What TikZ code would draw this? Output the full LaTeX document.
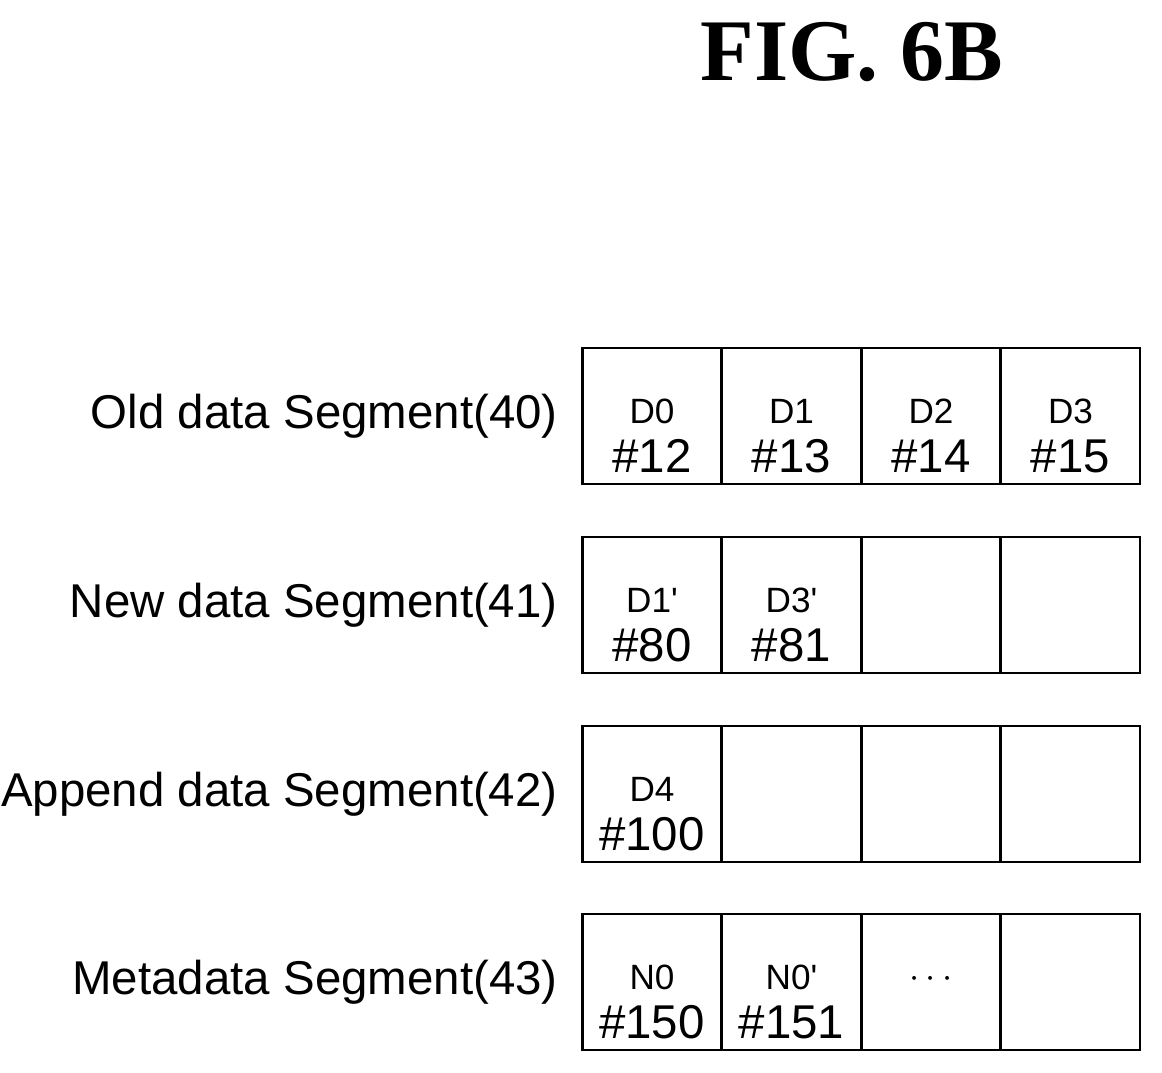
\documentclass[tikz,border=0pt]{standalone}
\usepackage{fontspec}
\setmainfont{Liberation Sans}
\newfontfamily\figfont{Liberation Serif}
\usetikzlibrary{positioning}
\begin{document}
\begin{tikzpicture}[x=0.02cm,y=-0.02cm,inner sep=0pt,
  cell/.style={draw,line width=1.2pt,minimum width=2.78cm,minimum height=2.72cm},
  seglabel/.style={anchor=east,font=\fontsize{27}{30}\selectfont},
  small/.style={font=\fontsize{20}{22}\selectfont},
  big/.style={font=\fontsize{27}{30}\selectfont}]
\useasboundingbox (0,0) rectangle (1162,1072);
\node[font=\figfont\bfseries\fontsize{50}{54}\selectfont] (fig) at (852,52) {FIG.\ 6B};
% segment rows
\foreach \r/\y/\txt in {0/416/Old data Segment(40),1/605/New data Segment(41),
                        2/794/Append data Segment(42),3/982/Metadata Segment(43)}{
  \node[seglabel] (lab\r) at (558,\y) {\txt};
  \foreach \k in {0,...,3}{
    \node[cell] (c\r\k) at (652+139.5*\k,\y) {};
  }
}
% cell contents
\foreach \r/\k/\a/\b in {0/0/D0/\#12,0/1/D1/\#13,0/2/D2/\#14,0/3/D3/\#15,
  1/0/D1\textquotesingle/\#80,1/1/D3\textquotesingle/\#81,2/0/D4/\#100,
  3/0/N0/\#150,3/1/N0\textquotesingle/\#151}{
  \node[small] (t\r\k) at ([yshift=0.1cm]c\r\k) {\a};
  \node[big] (n\r\k) at ([yshift=-0.8cm]c\r\k) {\b};
}
\node[small] (dots) at ([yshift=0.05cm]c32) {$\cdots$};
\end{tikzpicture}
\end{document}
